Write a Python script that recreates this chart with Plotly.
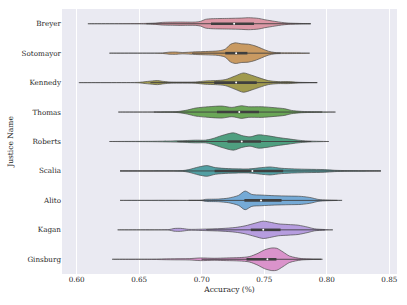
import plotly.graph_objects as go

justices = ["Breyer", "Sotomayor", "Kennedy", "Thomas", "Roberts",
            "Scalia", "Alito", "Kagan", "Ginsburg"]

colors = ["#dc98a6", "#c99a62", "#a09a4e", "#6aa657", "#4f9f80",
          "#519fa3", "#75aad6", "#b69ddf", "#da93cb"]

# density profiles: accuracy grid and relative half-width
breyer_x = [0.6090, 0.65, 0.6632, 0.6685, 0.6818, 0.695, 0.699, 0.7029, 0.7082, 0.7214,
            0.732, 0.7373, 0.7453, 0.7505, 0.7585, 0.7638, 0.7691, 0.777, 0.7871]
breyer_d = [0, 0.6, 2, 4, 5, 5, 7, 13, 15, 16, 17, 18, 16, 12, 7, 4, 2, 1, 0]

sotomayor_x = [0.6262, 0.6685, 0.6738, 0.6791, 0.6844, 0.695, 0.7029, 0.7135, 0.7188, 0.7228,
               0.7267, 0.732, 0.7373, 0.7426, 0.7479, 0.7532, 0.7585, 0.7744, 0.7863]
sotomayor_d = [0, 0.8, 3, 3.5, 2, 4, 5, 7, 12, 26, 31, 28, 27, 22, 14, 6, 2, 1, 0]

kennedy_x = [0.6018, 0.65, 0.6553, 0.6606, 0.6646, 0.6685, 0.6738, 0.6818, 0.695, 0.7029,
             0.7109, 0.7188, 0.7267, 0.7333, 0.74, 0.7479, 0.7532, 0.7611, 0.7691, 0.777, 0.7923]
kennedy_d = [0, 0.8, 3, 5, 6, 4, 2, 1.5, 2, 5, 6, 9, 20, 29, 22, 12, 6, 3, 3, 1, 0]

thomas_x = [0.6333, 0.6765, 0.6818, 0.6884, 0.695, 0.7056, 0.7162, 0.7241, 0.732, 0.7373,
            0.7479, 0.7585, 0.7664, 0.7717, 0.7797, 0.7902, 0.8069]
thomas_d = [0, 0.8, 2, 6, 12, 16, 18, 14, 19, 16, 16, 13, 10, 5, 2, 1, 0]

roberts_x = [0.6262, 0.6606, 0.6685, 0.6818, 0.695, 0.7029, 0.7082, 0.7162, 0.7254, 0.732,
             0.7386, 0.7453, 0.7532, 0.7611, 0.7691, 0.777, 0.7849, 0.8016]
roberts_d = [0, 0.6, 1, 2, 4, 4, 8, 18, 26, 18, 14, 20, 17, 12, 8, 4, 1.5, 0]

scalia_x = [0.6347, 0.6844, 0.6897, 0.6976, 0.7042, 0.7109, 0.7214, 0.7373, 0.7479, 0.7545,
            0.7638, 0.7744, 0.7849, 0.7982, 0.8061, 0.8167, 0.8432]
scalia_d = [0, 1, 4, 12, 16, 10, 7, 6, 10, 12, 8, 6, 5, 4, 2, 1, 0]

alito_x = [0.6347, 0.7003, 0.7029, 0.7135, 0.7214, 0.7294, 0.7347, 0.74, 0.7479, 0.7585,
           0.7691, 0.7797, 0.7876, 0.7929, 0.8008, 0.8122]
alito_d = [0, 0.8, 3, 4, 7, 15, 28, 18, 16, 14, 13, 12, 8, 3, 1, 0]

kagan_x = [0.6328, 0.6738, 0.6778, 0.6831, 0.6897, 0.7003, 0.7162, 0.7267, 0.7347, 0.7426,
           0.7492, 0.7558, 0.7611, 0.7691, 0.777, 0.7849, 0.7902, 0.7982, 0.8048]
kagan_d = [0, 0.8, 4, 4.5, 1.5, 2, 4, 7, 12, 20, 26, 22, 18, 16, 14, 8, 3, 1, 0]

ginsburg_x = [0.6284, 0.66, 0.675, 0.69, 0.699, 0.71, 0.72, 0.73, 0.738, 0.745,
              0.75, 0.756, 0.76, 0.765, 0.77, 0.775, 0.78, 0.7965]
ginsburg_d = [0, 0.5, 1.5, 2, 4, 3, 4, 5, 8, 18, 28, 34, 33, 22, 10, 5, 2, 0]

profiles_x = [breyer_x, sotomayor_x, kennedy_x, thomas_x, roberts_x,
              scalia_x, alito_x, kagan_x, ginsburg_x]
profiles_d = [breyer_d, sotomayor_d, kennedy_d, thomas_d, roberts_d,
              scalia_d, alito_d, kagan_d, ginsburg_d]

q1 = [0.7074, 0.7188, 0.7100, 0.7122, 0.7206, 0.7103, 0.7341, 0.7392, 0.7358]
median = [0.7259, 0.7275, 0.7275, 0.7300, 0.7320, 0.7405, 0.7474, 0.7492, 0.7525]
q3 = [0.7418, 0.7365, 0.7440, 0.7458, 0.7474, 0.7651, 0.7638, 0.7630, 0.7597]

SCALE = 1 / 88.5  # relative half-width -> category units

fig = go.Figure()
for i, name in enumerate(justices):
    xs = profiles_x[i]
    ds = profiles_d[i]
    upper = [i - d * SCALE for d in ds]
    lower = [i + d * SCALE for d in ds]
    fig.add_trace(go.Scatter(
        x=list(xs) + list(xs[::-1]),
        y=upper + lower[::-1],
        mode="lines", fill="toself", fillcolor=colors[i],
        line=dict(color="#4a4a4a", width=0.7, shape="spline", smoothing=0.8),
        hoverinfo="skip", showlegend=False))
    iqr = q3[i] - q1[i]
    lo = max(min(xs), q1[i] - 1.5 * iqr)
    hi = min(max(xs), q3[i] + 1.5 * iqr)
    fig.add_trace(go.Scatter(x=[lo, hi], y=[i, i], mode="lines",
                             line=dict(color="#3f3f3f", width=0.9),
                             hoverinfo="skip", showlegend=False))
    fig.add_trace(go.Scatter(x=[q1[i], q3[i]], y=[i, i], mode="lines",
                             line=dict(color="#3f3f3f", width=2.6),
                             hoverinfo="skip", showlegend=False))
    fig.add_trace(go.Scatter(x=[median[i]], y=[i], mode="markers",
                             marker=dict(color="white", size=2),
                             hoverinfo="skip", showlegend=False))

font = "DejaVu Serif"
fig.update_layout(
    width=407, height=305,
    margin=dict(l=62, r=10, t=9, b=31),
    paper_bgcolor="white", plot_bgcolor="#eaeaf2",
    font=dict(family=font, size=7.2, color="#262626"),
    xaxis=dict(range=[0.5883, 0.8561], tickvals=[0.60, 0.65, 0.70, 0.75, 0.80, 0.85],
               ticktext=["0.60", "0.65", "0.70", "0.75", "0.80", "0.85"],
               showgrid=True, gridcolor="white", gridwidth=1, zeroline=False,
               ticks="", showline=False, automargin=False,
               title=dict(text="Accuracy (%)", font=dict(size=7.5), standoff=3)),
    yaxis=dict(range=[8.5, -0.5], tickvals=list(range(9)), ticktext=justices,
               showgrid=False, zeroline=False, ticks="", showline=False,
               automargin=False,
               title=dict(text="Justice Name", font=dict(size=7.5), standoff=6)),
)

fig.write_html("out.html", config={"displayModeBar": False},
               post_script="document.body.style.margin='0';document.body.style.overflow='hidden';")
